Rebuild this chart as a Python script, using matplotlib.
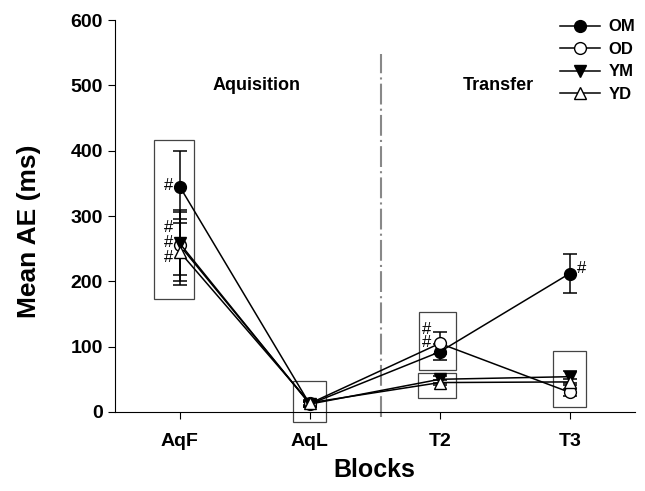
import numpy as np
import matplotlib.pyplot as plt
from matplotlib.patches import Rectangle
from matplotlib.lines import Line2D

plt.rcParams["font.family"] = "Liberation Sans"
plt.rcParams["font.weight"] = "bold"
plt.rcParams["axes.labelweight"] = "bold"

blocks = ["AqF", "AqL", "T2", "T3"]
x = np.arange(len(blocks))

# means and error bars
OM = [345, 12, 92, 212]
OM_err = [55, 4, 12, 30]
OD = [255, 13, 105, 30]
OD_err = [55, 4, 17, 5]
YM = [258, 12, 50, 54]
YM_err = [48, 4, 5, 9]
YD = [245, 14, 45, 46]
YD_err = [50, 4, 4, 5]

# boxes (x0, x1, y0, y1)
boxes = [(-0.2, 0.108, 173, 416),
         (0.87, 1.123, -15, 48),
         (1.84, 2.123, 64, 153),
         (1.83, 2.123, 21, 60),
         (2.87, 3.123, 8, 94)]

# significance marks (x, y)
hash_x = [-0.09, -0.09, -0.09, -0.09, 1.9, 1.9, 3.09]
hash_y = [347, 282, 259, 236, 127, 106, 220]

fig = plt.figure(figsize=(6.45, 4.91), dpi=100)
ax = fig.add_axes([0.178, 0.161, 0.806, 0.798])

styles = [("OM", OM, OM_err, "o", "black"),
          ("OD", OD, OD_err, "o", "white"),
          ("YM", YM, YM_err, "v", "black"),
          ("YD", YD, YD_err, "^", "white")]
handles = []
for lab, y, e, m, fc in styles:
    ax.errorbar(x, y, yerr=e, marker=m, color="black", mfc=fc, mec="black",
                ms=8.5, lw=1.1, elinewidth=1.1, capsize=5, capthick=1.1)
    handles.append(Line2D([], [], marker=m, color="black", mfc=fc, mec="black",
                          ms=8.5, lw=1.1, label=lab))

for x0, x1, y0, y1 in boxes:
    ax.add_patch(Rectangle((x0, y0), x1 - x0, y1 - y0, fill=False,
                           ec="#444444", lw=0.9, clip_on=False))

for hx, hy in zip(hash_x, hash_y):
    ax.text(hx, hy, "#", ha="center", va="center", fontsize=12, fontweight="normal")

ax.plot([1.55, 1.55], [-8, 548], color="#888888", lw=1.5, ls=(0, (10, 2, 1, 2)),
        clip_on=False)

ax.text(0.59, 500, "Aquisition", ha="center", va="center", fontsize=13)
ax.text(2.45, 500, "Transfer", ha="center", va="center", fontsize=13)

ax.set_xlim(-0.5, 3.5)
ax.set_ylim(0, 600)
ax.set_xticks(x)
ax.set_xticklabels(blocks)
ax.set_yticks(range(0, 601, 100))
ax.tick_params(axis="both", labelsize=14, direction="out", length=5)
ax.tick_params(axis="x", pad=10)
ax.spines["top"].set_visible(False)
ax.spines["right"].set_visible(False)
ax.set_xlabel("Blocks", fontsize=18)
ax.set_ylabel("Mean AE (ms)", fontsize=19)
ax.xaxis.set_label_coords(0.5, -0.118)
ax.yaxis.set_label_coords(-0.142, 0.46)

ax.legend(handles=handles, loc="upper right", frameon=False, fontsize=12,
          handlelength=2.4, labelspacing=0.45, handletextpad=0.5,
          bbox_to_anchor=(1.03, 1.04))

plt.savefig("out.png", dpi=100)
